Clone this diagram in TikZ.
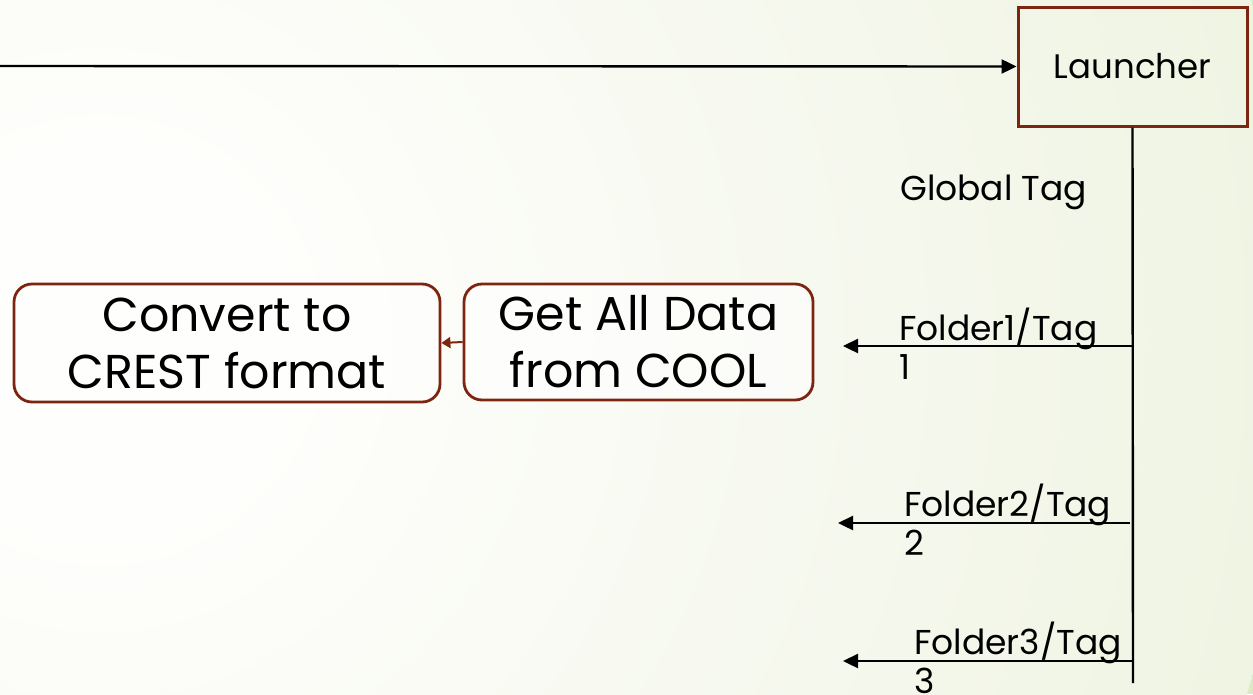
\documentclass[tikz,border=0pt]{standalone}
\usepackage{fontspec}
\setmainfont{Poppins}
\usetikzlibrary{arrows.meta}
\definecolor{boxred}{RGB}{124,38,18}
\definecolor{bgw}{RGB}{254,254,252}
\definecolor{bgg}{RGB}{221,232,196}
\pgfdeclareradialshading{bgshade}{\pgfpoint{0bp}{0bp}}{color(0bp)=(bgw); color(4bp)=(bgw); color(50bp)=(bgg)}
\tikzset{
  launchbox/.style={draw=boxred, line width=3pt, minimum width=229pt, minimum height=119pt, inner sep=0pt, font=\fontsize{34}{40}\selectfont},
  procbox/.style={draw=boxred, line width=2.8pt, rounded corners=18pt, fill=white, fill opacity=0.6, text opacity=1, inner sep=0pt, align=center, font=\fontsize{47.5}{57}\selectfont},
  flowline/.style={line width=2.4pt, draw=black},
  flowarrow/.style={line width=2.4pt, draw=black, -{Triangle[length=15pt,width=14pt]}},
  lbl/.style={inner sep=0pt, align=left, font=\fontsize{34.5}{39}\selectfont},
}
\begin{document}
\begin{tikzpicture}[x=1pt,y=-1pt]
\useasboundingbox (0,0) rectangle (1253,694);
\begin{scope}
\clip (0,0) rectangle (1253,694);
\fill[bgg] (0,0) rectangle (1253,694);
\shade[shading=bgshade] (100,340) circle (1200);
\end{scope}

\node[launchbox] (launcher) at (1132.5,66.5) {Launcher};
\coordinate (start) at (0,66);
\draw[flowarrow] (start) -- (launcher.west);

\coordinate (vend) at (1133,683);
\draw[flowline] (launcher.south) -- (vend);

\node[lbl, anchor=base west] (global) at (900,200) {Global Tag};

\coordinate (f1s) at (1133,346);
\coordinate (f1e) at (843,346);
\coordinate (f2s) at (1130,523);
\coordinate (f2e) at (838,523);
\coordinate (f3s) at (1133,661);
\coordinate (f3e) at (843,661);
\draw[flowarrow] (f1s) -- (f1e);
\draw[flowarrow] (f2s) -- (f2e);
\draw[flowarrow] (f3s) -- (f3e);

\node[lbl, anchor=north west] (l1) at (899,308) {Folder1/Tag\\1};
\node[lbl, anchor=north west] (l2) at (904,484) {Folder2/Tag\\2};
\node[lbl, anchor=north west] (l3) at (914,622) {Folder3/Tag\\3};

\node[procbox, minimum width=349pt, minimum height=116pt] (get) at (638.5,342) {Get All Data\\from COOL};
\node[procbox, minimum width=426pt, minimum height=118pt] (convert) at (227,343) {Convert to\\CREST format};
\draw[boxred, line width=2pt, -{Triangle[length=9pt,width=11pt]}] (get.west) -- (convert.east);
\end{tikzpicture}
\end{document}
